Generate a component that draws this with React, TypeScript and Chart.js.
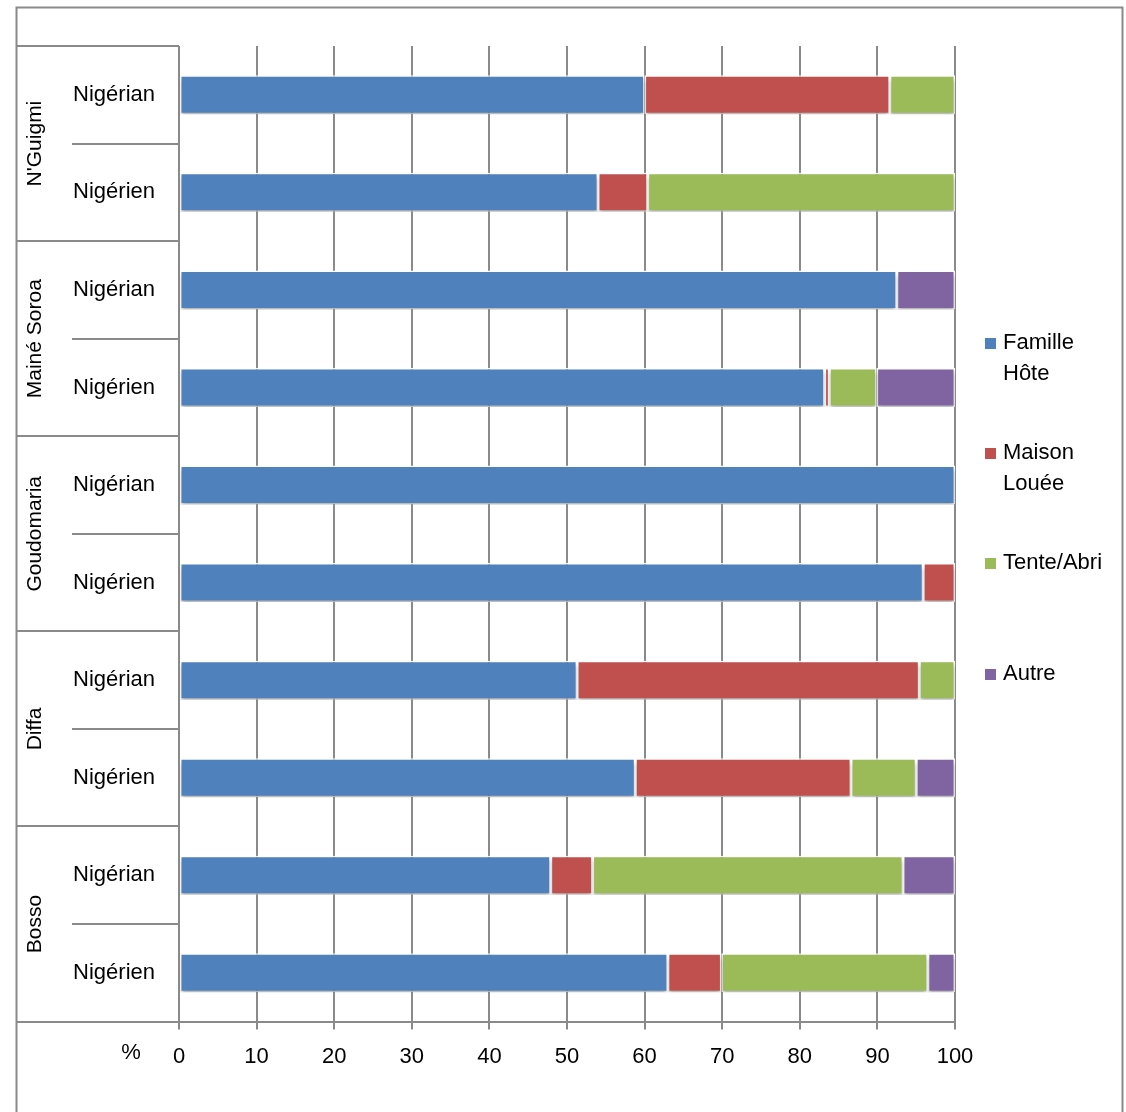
import React, { useEffect, useRef } from "react";
import { Chart, registerables } from "chart.js";

Chart.register(...registerables);

const groups = ["N'Guigmi", "Mainé Soroa", "Goudomaria", "Diffa", "Bosso"];
const subLabels = [
  "Nigérian", "Nigérien",
  "Nigérian", "Nigérien",
  "Nigérian", "Nigérien",
  "Nigérian", "Nigérien",
  "Nigérian", "Nigérien",
];
const seriesNames = ["Famille\nHôte", "Maison\nLouée", "Tente/Abri", "Autre"];
const seriesColors = ["#4F81BD", "#C0504D", "#9BBB59", "#8064A2"];

const familleHote = [60, 54, 92.5, 83.2, 100, 95.9, 51.3, 58.8, 47.9, 63.0];
const maisonLouee = [31.6, 6.4, 0, 0.6, 0, 4.1, 44.1, 27.8, 5.4, 6.9];
const tenteAbri = [8.4, 39.6, 0, 6.1, 0, 0, 4.6, 8.4, 40.0, 26.6];
const autre = [0, 0, 7.5, 10.1, 0, 0, 0, 5.0, 6.7, 3.5];

const xTicks = [0, 10, 20, 30, 40, 50, 60, 70, 80, 90, 100];

const FONT = '"Liberation Sans", Arial, sans-serif';
const LINE = "#8a8a8a";

const W = 1126;
const H = 1112;

export default function App() {
  const ref = useRef<HTMLCanvasElement | null>(null);

  useEffect(() => {
    const canvas = ref.current;
    if (!canvas) return;

    const shadowPlugin = {
      id: "barShadow",
      beforeDatasetsDraw(chart: any) {
        const ctx = chart.ctx;
        ctx.save();
        ctx.shadowColor = "rgba(0,0,0,0.28)";
        ctx.shadowBlur = 4;
        ctx.shadowOffsetX = 0;
        ctx.shadowOffsetY = 4;
      },
      afterDatasetsDraw(chart: any) {
        chart.ctx.restore();
      },
    };

    const decorPlugin = {
      id: "decor",
      afterDraw(chart: any) {
        const ctx = chart.ctx;
        const area = chart.chartArea;
        const y = chart.scales.y;
        const outerLeft = 16.5;
        ctx.save();
        // outer border
        ctx.strokeStyle = LINE;
        ctx.lineWidth = 2;
        ctx.beginPath();
        ctx.moveTo(outerLeft, H + 2);
        ctx.lineTo(outerLeft, 7.5);
        ctx.lineTo(1122.5, 7.5);
        ctx.lineTo(1122.5, H + 2);
        ctx.stroke();

        // category axis box lines
        const n = subLabels.length;
        const step = (area.bottom - area.top) / n;
        ctx.lineWidth = 2;
        ctx.beginPath();
        for (let g = 0; g <= groups.length; g++) {
          const yy = Math.round(area.top + g * 2 * step);
          ctx.moveTo(outerLeft, yy);
          ctx.lineTo(area.left, yy);
        }
        for (let g = 0; g < groups.length; g++) {
          const yy = Math.round(area.top + (g * 2 + 1) * step);
          ctx.moveTo(72, yy);
          ctx.lineTo(area.left, yy);
        }
        ctx.moveTo(area.left, area.top);
        ctx.lineTo(area.left, area.bottom);
        ctx.stroke();

        // group labels rotated
        ctx.fillStyle = "#000";
        ctx.font = `21px ${FONT}`;
        ctx.textAlign = "center";
        ctx.textBaseline = "middle";
        groups.forEach((name, g) => {
          const c1 = y.getPixelForValue(g * 2);
          const c2 = y.getPixelForValue(g * 2 + 1);
          const cy = (c1 + c2) / 2;
          ctx.save();
          ctx.translate(35, cy);
          ctx.rotate(-Math.PI / 2);
          ctx.fillText(name, 0, 0);
          ctx.restore();
        });

        // % label
        ctx.font = `22px ${FONT}`;
        ctx.textAlign = "center";
        ctx.fillText("%", 131, 1053);

        // legend
        const lx = 985;
        const lineH = 31;
        const itemY = [343, 453, 563, 674];
        ctx.font = `22px ${FONT}`;
        ctx.textAlign = "left";
        chart.data.datasets.forEach((ds: any, i: number) => {
          const lines = String(ds.label).split("\n");
          const top = itemY[i];
          ctx.fillStyle = ds.backgroundColor;
          ctx.fillRect(lx, top - 5, 11, 11);
          ctx.fillStyle = "#000";
          lines.forEach((t: string, k: number) => {
            ctx.fillText(t, 1003, top + k * lineH);
          });
        });
        ctx.restore();
      },
    };

    const chart = new Chart(canvas, {
      type: "bar",
      data: {
        labels: subLabels,
        datasets: [familleHote, maisonLouee, tenteAbri, autre].map((d, i) => ({
          label: seriesNames[i],
          data: d,
          backgroundColor: seriesColors[i],
          borderColor: "rgba(255,255,255,0.95)",
          borderWidth: 1.5,
          borderSkipped: false,
          barPercentage: 0.4,
          categoryPercentage: 1,
        })),
      },
      options: {
        indexAxis: "y",
        responsive: false,
        animation: false,
        devicePixelRatio: 1,
        layout: { padding: { left: 17, right: 171, top: 46, bottom: 28 } },
        plugins: {
          legend: { display: false },
          tooltip: { enabled: false },
          title: { display: false },
        },
        scales: {
          x: {
            stacked: true,
            min: 0,
            max: 100,
            afterBuildTicks: (scale: any) => {
              scale.ticks = xTicks.map((v) => ({ value: v }));
            },
            ticks: {
              color: "#000",
              font: { family: FONT, size: 22 },
              padding: 14,
              maxRotation: 0,
              autoSkip: false,
            },
            grid: {
              color: LINE,
              lineWidth: 2,
              tickLength: 8,
              drawOnChartArea: true,
            },
            border: { display: true, color: LINE, width: 2 },
          },
          y: {
            stacked: true,
            afterFit: (scale: any) => {
              scale.width = 162;
            },
            ticks: {
              color: "#000",
              font: { family: FONT, size: 22 },
              padding: 24,
            },
            grid: { display: false, drawTicks: false },
            border: { display: false },
          },
        },
      },
      plugins: [shadowPlugin, decorPlugin],
    } as any);

    return () => chart.destroy();
  }, []);

  return (
    <div style={{ position: "absolute", left: 0, top: 0, width: W, height: H, background: "#fff" }}>
      <canvas ref={ref} width={W} height={H} style={{ display: "block", width: W, height: H }} />
    </div>
  );
}
